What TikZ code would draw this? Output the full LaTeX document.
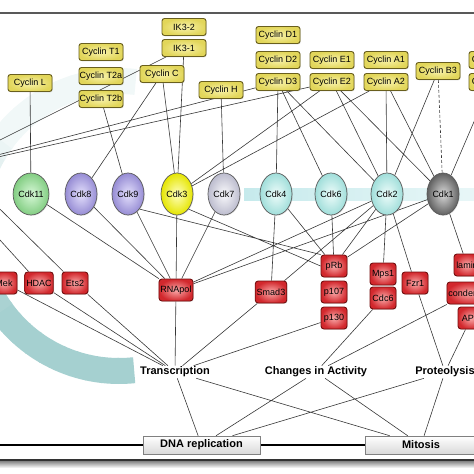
\documentclass[tikz,border=0pt]{standalone}
\usepackage{fontspec}
\setmainfont{Liberation Sans}
\usetikzlibrary{positioning, shapes.geometric, shadows, backgrounds}

\definecolor{cycfill}{RGB}{226,214,90}
\definecolor{cyclight}{RGB}{248,242,170}
\definecolor{cycline}{RGB}{105,95,30}
\definecolor{redlight}{RGB}{250,170,170}
\definecolor{reddark}{RGB}{210,40,45}
\definecolor{redline}{RGB}{115,15,15}
\definecolor{arcteal}{RGB}{165,208,208}
\definecolor{bandteal}{RGB}{198,234,236}
\definecolor{linkgray}{RGB}{55,55,55}
\definecolor{greenin}{RGB}{215,248,215}
\definecolor{greenout}{RGB}{130,205,130}
\definecolor{lavin}{RGB}{228,224,252}
\definecolor{lavout}{RGB}{150,140,212}
\definecolor{cyanin}{RGB}{238,252,250}
\definecolor{cyanout}{RGB}{160,222,218}
\definecolor{greyin}{RGB}{250,250,252}
\definecolor{greyout}{RGB}{188,188,206}

\begin{document}
\begin{tikzpicture}[x=1pt, y=-1pt,
  cyclinbox/.style={draw=cycline, line width=0.9pt, rounded corners=2.5pt, inner color=cyclight, outer color=cycfill, minimum width=44pt, minimum height=17pt, inner sep=0.5pt, font=\fontsize{9}{10}\selectfont, drop shadow={opacity=0.25, shadow xshift=0.8pt, shadow yshift=-0.8pt}},
  cdk/.style 2 args={ellipse, draw=black!65, line width=0.7pt, inner color=#1, outer color=#2, minimum width=32pt, minimum height=42pt, inner sep=0pt, font=\fontsize{9}{10}\selectfont, drop shadow={opacity=0.2, shadow xshift=0.8pt, shadow yshift=-0.8pt}},
  target/.style={draw=redline, line width=0.9pt, rounded corners=3pt, inner color=redlight, outer color=reddark, minimum width=26pt, minimum height=22pt, inner sep=1.5pt, font=\fontsize{9}{10}\selectfont, drop shadow={opacity=0.25, shadow xshift=0.8pt, shadow yshift=-0.8pt}},
  process/.style={font=\bfseries\fontsize{11}{13}\selectfont, inner sep=1pt},
  phase/.style={draw=black!50, line width=0.6pt, top color=white, bottom color=black!15, minimum height=18pt, font=\bfseries\fontsize{11}{13}\selectfont},
  link/.style={draw=linkgray, line width=0.6pt}]
  \useasboundingbox (0,0) rectangle (474,474);

  % frame rules
  \draw[black!65, line width=1.2pt] (0,13) -- (474,13);
  \fill[top color=black!55, bottom color=white] (0,460) rectangle (474,468);
  \draw[black!80, line width=1.5pt] (0,460) -- (474,460);

  % Cyclins
  \node[cyclinbox] (cycL) at (30,83) {Cyclin L};
  \node[cyclinbox] (cycTa) at (101,52) {Cyclin T1};
  \node[cyclinbox] (cycTb) at (101,76) {Cyclin T2a};
  \node[cyclinbox] (cycTc) at (101,99) {Cyclin T2b};
  \node[cyclinbox] (ikb) at (184,27) {IK3-2};
  \node[cyclinbox] (ika) at (184,48) {IK3-1};
  \node[cyclinbox] (cycC) at (162,74) {Cyclin C};
  \node[cyclinbox] (cycH) at (221,90) {Cyclin H};
  \node[cyclinbox] (cycDa) at (278,35) {Cyclin D1};
  \node[cyclinbox] (cycDb) at (278,60) {Cyclin D2};
  \node[cyclinbox] (cycDc) at (278,82) {Cyclin D3};
  \node[cyclinbox] (cycEa) at (332,60) {Cyclin E1};
  \node[cyclinbox] (cycEb) at (332,82) {Cyclin E2};
  \node[cyclinbox] (cycAa) at (386,60) {Cyclin A1};
  \node[cyclinbox] (cycAb) at (386,82) {Cyclin A2};
  \node[cyclinbox] (cycBc) at (438,71) {Cyclin B3};
  \node[cyclinbox] (cycBa) at (491,60) {Cyclin B1};
  \node[cyclinbox] (cycBb) at (491,82) {Cyclin B2};

  % Cdks
  \node[cdk={greenin}{greenout}] (cdk11) at (31,194) {Cdk11};
  \node[cdk={lavin}{lavout}] (cdk8) at (81,194) {Cdk8};
  \node[cdk={lavin}{lavout}] (cdk9) at (128,194) {Cdk9};
  \node[cdk={yellow!25}{yellow!90!black}] (cdk3) at (177,194) {Cdk3};
  \node[cdk={greyin}{greyout}] (cdk7) at (224,194) {Cdk7};
  \node[cdk={cyanin}{cyanout}] (cdk4) at (276,194) {Cdk4};
  \node[cdk={cyanin}{cyanout}] (cdk6) at (331,194) {Cdk6};
  \node[cdk={cyanin}{cyanout}] (cdk2) at (387,194) {Cdk2};
  \node[cdk={black!15}{black!62}] (cdk1) at (443,194) {Cdk1};

  % Substrates
  \node[target] (mek) at (4,283) {Mek};
  \node[target] (hdac) at (39,283) {HDAC};
  \node[target] (ets2) at (75,283) {Ets2};
  \node[target] (rnapol) at (176,290) {RNApol};
  \node[target] (smad3) at (271,292) {Smad3};
  \node[target] (prb) at (334,266) {pRb};
  \node[target] (p107) at (334,292) {p107};
  \node[target] (p130) at (334,318) {p130};
  \node[target] (mps1) at (383,274) {Mps1};
  \node[target] (cdc6) at (383,298) {Cdc6};
  \node[target] (fzr1) at (415,283) {Fzr1};
  \node[target] (lamin) at (467,265) {lamin};
  \node[target] (condensin) at (469,293) {condensin};
  \node[target] (apc) at (471,318) {APC};

  % Processes
  \node[process] (trans) at (175,372) {Transcription};
  \node[process] (chact) at (316,372) {Changes in Activity};
  \node[process] (prot) at (445,372) {Proteolysis};
  \node[phase, minimum width=117pt] (dnarep) at (201.5,445) {DNA replication};
  \node[phase, minimum width=112pt] (mitosis) at (421,445) {Mitosis};

  % partners outside the frame
  \coordinate (farI) at (-40,160);
  \coordinate (farD) at (-60,170);
  \coordinate (farA) at (-50,160);
  \coordinate (farB) at (-40,196);
  \coordinate (lineL) at (0,445);

  \begin{scope}[on background layer]
    % cyan arc
    \foreach \a in {84,90,...,270} {
      \pgfmathsetmacro\b{\a+6.6}
      \pgfmathtruncatemacro\fade{max(15,min(100,100-(\a-140)*1.1))}
      \draw[arcteal!\fade, line width=26pt] plot[domain=\a:\b, samples=4] ({119+145*cos(\x)},{226+145*sin(\x)});
    }
    \fill[left color=bandteal, right color=bandteal!40] (244,188) rectangle (474,200);

    % cyclins to Cdks
    \draw[link] (cycL) -- (cdk11) (cycTc) -- (cdk9) (cycC) -- (cdk8) (cycC) -- (cdk3)
      (ika) -- (cdk3) (ika) -- (farI) (cycH) -- (cdk7)
      (cycDc) -- (cdk4) (cycDc) -- (cdk6) (cycDc) -- (cdk2) (cycDc) -- (farD)
      (cycEb) -- (cdk2) (cycEb) -- (cdk1) (cycEb) -- (cdk3) (cycEb) -- (farD)
      (cycAb) -- (cdk2) (cycAb) -- (cdk1) (cycAb) -- (cdk3)
      (cycBc) -- (cdk2) (cycBb) -- (cdk1);
    \draw[link, densely dashed] (cycBc) -- (cdk1);

    % Cdks to substrates
    \draw[link] (cdk11) -- (rnapol) (cdk8) -- (rnapol) (cdk9) -- (rnapol) (cdk3) -- (rnapol)
      (cdk7) -- (rnapol) (cdk2) -- (rnapol) (cdk1) -- (rnapol)
      (cdk9.south east) -- (prb.north west) (cdk3.south east) -- (prb.west)
      (cdk4) -- (prb) (cdk6) -- (prb) (cdk2) -- (prb) (cdk1) -- (prb)
      (cdk4) -- (smad3) (cdk2) -- (smad3) (cdk2) -- (mps1) (cdk2) -- (fzr1) (cdk1) -- (lamin)
      (farA) -- (ets2) (farB) -- (hdac);

    % substrates to processes
    \draw[link] (mek) -- (trans) (hdac) -- (trans) (ets2) -- (trans) (rnapol) -- (trans)
      (smad3) -- (trans) (p130) -- (trans) (cdc6) -- (chact) (condensin) -- (chact)
      (fzr1) -- (prot) (apc) -- (prot);

    % processes to phases
    \draw[link] (trans) -- (dnarep) (trans) -- (mitosis) (chact) -- (dnarep)
      (chact) -- (mitosis) (prot) -- (dnarep) (prot) -- (mitosis);
    \draw[line width=2.4pt] (lineL) -- (dnarep.west) (dnarep.east) -- (mitosis.west);
  \end{scope}
\end{tikzpicture}
\end{document}
